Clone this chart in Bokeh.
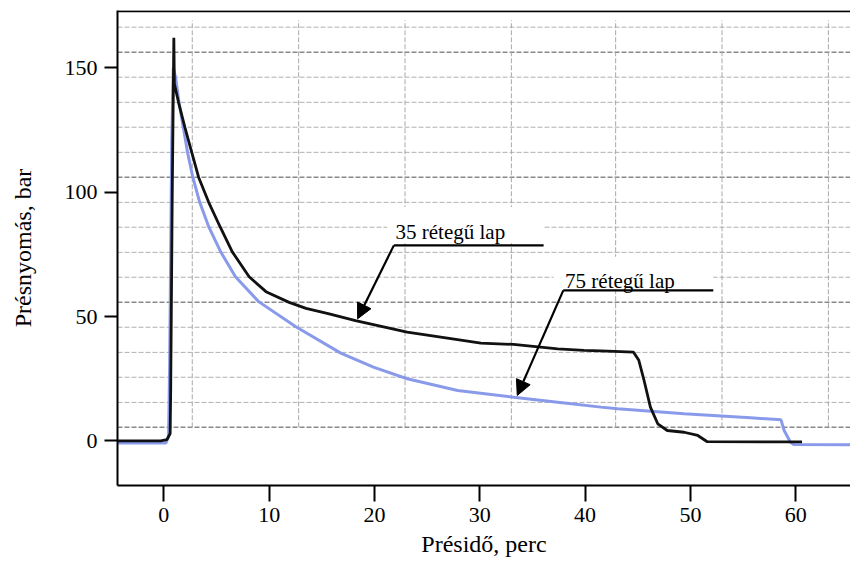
from bokeh.plotting import figure
from bokeh.models import Arrow, NormalHead, Label, FixedTicker, Range1d
from bokeh.embed import file_html
from bokeh.resources import INLINE

# ---- data ----
black_x = [-4.4, -0.3, 0.3, 0.6, 0.65, 0.8, 0.95, 1.0, 1.4, 2.0, 2.65, 3.3, 4.25, 5.35, 6.5, 8.1, 9.7,
           11.9, 13.5, 15.7, 18.2, 23.1, 26.3, 30.1, 33.2, 37.4, 39.9, 41.5, 44.6, 45.1, 45.6, 46.2,
           46.9, 47.8, 49.4, 50.7, 51.6, 60.6]
black_y = [0.0, 0.0, 0.5, 3.0, 20.0, 100.0, 162.0, 143.5, 136.0, 126.0, 116.0, 106.0, 96.0, 86.0, 76.0, 66.0, 60.0,
           55.7, 53.3, 51.1, 48.4, 43.7, 41.7, 39.3, 38.8, 37.0, 36.4, 36.2, 35.7, 32.4, 24.3, 13.6,
           6.9, 4.2, 3.5, 2.2, -0.3, -0.4]

blue_x = [-4.4, 0.2, 0.45, 0.55, 0.75, 0.9, 1.12, 1.44, 1.85, 2.25, 2.75, 3.4, 4.27, 5.4, 6.8, 9.0,
          12.5, 16.8, 19.9, 23.1, 27.9, 33.2, 37.4, 41.5, 43.1, 49.4, 55.7, 58.6, 58.9, 59.5, 59.8, 65.2]
blue_y = [-0.8, -0.8, 2.0, 30.0, 120.0, 150.0, 146.0, 136.0, 126.0, 116.0, 106.0, 96.0, 86.0, 76.0, 66.0, 56.0,
          46.0, 35.3, 29.7, 25.0, 20.3, 17.6, 15.6, 13.6, 12.9, 10.9, 9.3, 8.5, 4.2, -0.5, -1.4, -1.5]

x_ticks = [0, 10, 20, 30, 40, 50, 60]
y_ticks = [0, 50, 100, 150]

# recorder-paper grid
grid_x = [2.7, 12.8, 22.9, 33.0, 42.9, 53.0, 63.1]
grid_y = [5.5, 15.5, 25.6, 35.6, 45.7, 55.7, 65.8, 75.8, 85.9, 95.9, 106.0, 116.0, 126.1,
          136.1, 146.2, 156.2, 166.3]
grid_y_major = [5.5, 55.7, 106.0, 156.2]

label_35 = "35 rétegű lap"
label_75 = "75 rétegű lap"

FONT = "Liberation Serif"

X0, X1 = -4.4, 65.2
Y0, Y1 = -17.9, 173.0

p = figure(width=850, height=559, x_range=Range1d(X0, X1), y_range=Range1d(Y0, Y1),
           output_backend="svg", toolbar_location=None,
           min_border_left=117, min_border_right=0, min_border_top=10, min_border_bottom=74)

p.outline_line_color = None
p.xgrid.visible = False
p.ygrid.visible = False
p.background_fill_color = "white"

# grid
for gy in grid_y:
    major = gy in grid_y_major
    p.line([X0, X1], [gy, gy], line_color="#8a8a8a" if major else "#b0b0b0",
           line_width=1.5 if major else 1.0, line_dash="5 2")
for gx in grid_x:
    p.line([gx, gx], [grid_y[0], 169.0], line_color="#a8a8a8", line_width=1.0, line_dash="5 2")

# top border
p.line([X0, X1], [Y1 - 0.3, Y1 - 0.3], line_color="black", line_width=2)

# curves
p.line(blue_x, blue_y, line_color="#8395ea", line_width=3, line_alpha=0.95)
p.line(black_x, black_y, line_color="#111111", line_width=2.8)

# annotation boxes
p.quad(left=[21.2], right=[36.06], bottom=[79.5], top=[94.0], fill_color="white", line_color=None)
p.quad(left=[37.0], right=[52.17], bottom=[61.0], top=[74.0], fill_color="white", line_color=None)

p.add_layout(Label(x=22.0, y=83.8, text=label_35, text_font=FONT, text_font_size="21px",
                   text_color="black", text_baseline="alphabetic"))
p.add_layout(Label(x=38.1, y=64.1, text=label_75, text_font=FONT, text_font_size="21px",
                   text_color="black", text_baseline="alphabetic"))

# leader lines + arrows
p.line([21.84, 36.06], [78.6, 78.6], line_color="black", line_width=2.2)
p.line([37.93, 52.17], [60.5, 60.5], line_color="black", line_width=2.2)
p.add_layout(Arrow(end=NormalHead(size=15, fill_color="black", line_color="black"),
                   x_start=21.84, y_start=78.6, x_end=18.4, y_end=49.1,
                   line_color="black", line_width=2.2))
p.add_layout(Arrow(end=NormalHead(size=15, fill_color="black", line_color="black"),
                   x_start=37.93, y_start=60.5, x_end=33.56, y_end=18.3,
                   line_color="black", line_width=2.2))

# axes
p.xaxis.ticker = FixedTicker(ticks=x_ticks)
p.yaxis.ticker = FixedTicker(ticks=y_ticks)
for ax in (p.xaxis[0], p.yaxis[0]):
    ax.axis_line_color = "black"
    ax.axis_line_width = 2
    ax.major_tick_line_color = "black"
    ax.major_tick_line_width = 2
    ax.major_tick_in = 0
    ax.minor_tick_line_color = None
    ax.major_label_text_font = FONT
    ax.major_label_text_font_size = "22px"
    ax.major_label_text_color = "black"
    ax.axis_label_text_font = FONT
    ax.axis_label_text_font_size = "24px"
    ax.axis_label_text_font_style = "normal"
    ax.axis_label_text_color = "black"

p.xaxis.major_tick_out = 16
p.yaxis.major_tick_out = 13
p.xaxis.major_label_standoff = 6
p.yaxis.major_label_standoff = 7
p.xaxis.axis_label = "Présidő, perc"
p.yaxis.axis_label = "Présnyomás, bar"
p.xaxis.axis_label_standoff = 6
p.yaxis.axis_label_standoff = 26

open("out.html", "w").write(file_html(p, INLINE))
